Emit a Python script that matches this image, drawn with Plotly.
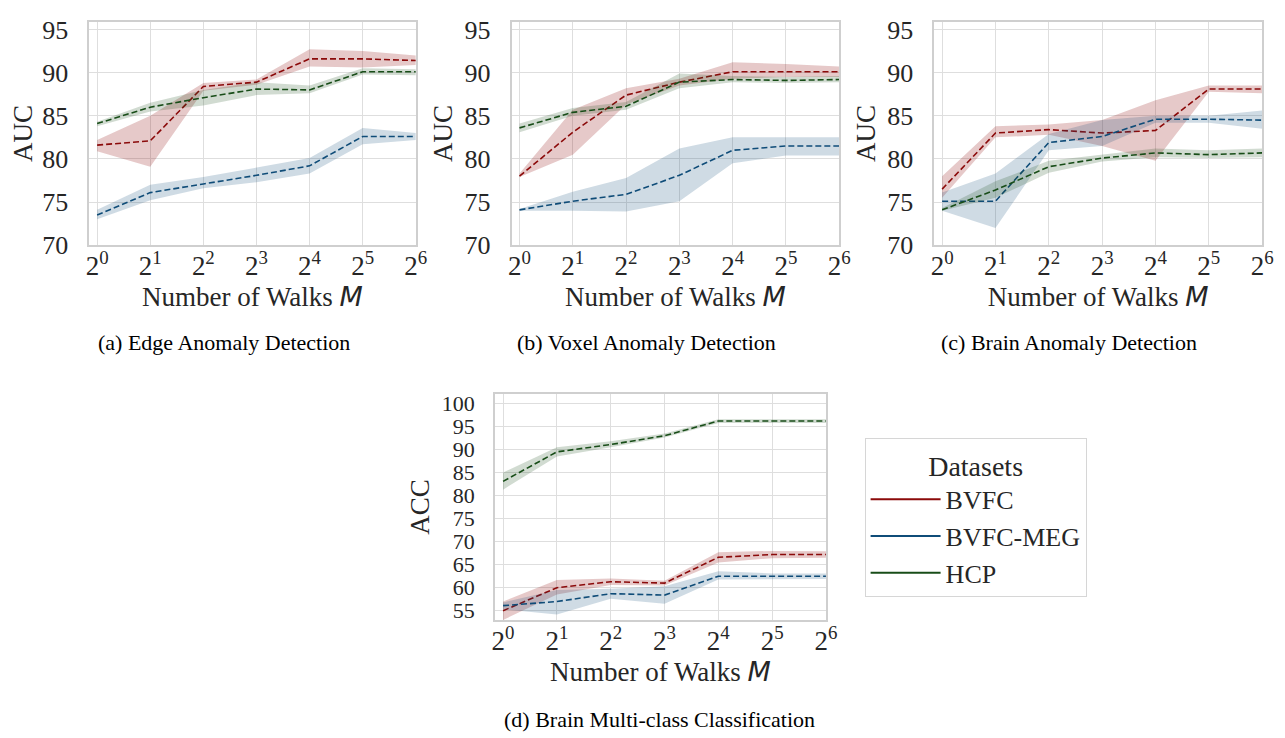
import plotly.graph_objects as go

walks = [0, 1, 2, 3, 4, 5, 6]
tick_text = [f"2<sup>{k}</sup>" for k in walks]
datasets = ["BVFC", "BVFC-MEG", "HCP"]
colors = {"BVFC": "#8b0a0a", "BVFC-MEG": "#0f4c78", "HCP": "#184d18"}
bands = {"BVFC": "rgba(139,10,10,0.22)", "BVFC-MEG": "rgba(15,76,120,0.2)", "HCP": "rgba(24,77,24,0.2)"}

# (a) Edge anomaly detection, AUC
edge_bvfc = [81.6, 82.1, 88.4, 88.9, 91.6, 91.6, 91.4]
edge_bvfc_lo = [80.9, 79.1, 87.9, 88.6, 90.7, 90.6, 90.9]
edge_bvfc_hi = [82.2, 85.0, 88.8, 89.2, 92.7, 92.5, 92.0]
edge_meg = [73.5, 76.1, 77.1, 78.1, 79.2, 82.6, 82.6]
edge_meg_lo = [73.0, 75.2, 76.6, 77.3, 78.3, 81.7, 82.2]
edge_meg_hi = [74.1, 77.0, 77.9, 79.0, 80.1, 83.6, 83.0]
edge_hcp = [84.1, 86.0, 87.1, 88.1, 88.0, 90.1, 90.1]
edge_hcp_lo = [83.8, 85.5, 86.2, 87.4, 87.6, 89.8, 89.7]
edge_hcp_hi = [84.3, 86.5, 88.0, 88.9, 88.5, 90.5, 90.4]

# (b) Voxel anomaly detection, AUC
voxel_bvfc = [78.0, 83.1, 87.4, 88.9, 90.1, 90.1, 90.1]
voxel_bvfc_lo = [77.9, 80.5, 86.3, 88.5, 89.3, 89.5, 89.5]
voxel_bvfc_hi = [78.3, 85.7, 88.2, 89.3, 91.2, 91.0, 90.7]
voxel_meg = [74.1, 75.1, 75.9, 78.1, 81.0, 81.5, 81.5]
voxel_meg_lo = [74.0, 74.0, 73.9, 75.1, 79.5, 80.4, 80.4]
voxel_meg_hi = [74.2, 76.2, 77.8, 81.2, 82.5, 82.5, 82.5]
voxel_hcp = [83.6, 85.4, 86.1, 88.9, 89.2, 89.1, 89.2]
voxel_hcp_lo = [83.1, 85.0, 85.7, 88.2, 88.9, 88.8, 88.9]
voxel_hcp_hi = [84.1, 85.9, 86.6, 89.9, 89.6, 89.5, 89.6]

# (c) Brain anomaly detection, AUC
brain_bvfc = [76.5, 83.0, 83.4, 83.0, 83.3, 88.1, 88.1]
brain_bvfc_lo = [75.5, 82.5, 82.8, 81.5, 79.8, 87.8, 87.6]
brain_bvfc_hi = [78.0, 83.8, 84.0, 84.5, 86.8, 88.5, 88.5]
brain_meg = [75.1, 75.1, 81.9, 82.6, 84.6, 84.6, 84.5]
brain_meg_lo = [74.0, 72.0, 81.0, 81.5, 84.2, 84.2, 83.5]
brain_meg_hi = [76.1, 78.3, 82.9, 84.5, 85.0, 85.0, 85.6]
brain_hcp = [74.1, 76.4, 79.1, 80.1, 80.7, 80.5, 80.7]
brain_hcp_lo = [74.0, 75.5, 78.4, 79.7, 80.2, 80.1, 80.2]
brain_hcp_hi = [74.3, 77.4, 79.8, 80.5, 81.2, 81.0, 81.2]

# (d) Brain multi-class classification, ACC
cls_bvfc = [55.0, 60.0, 61.3, 61.0, 66.6, 67.2, 67.2]
cls_bvfc_lo = [53.0, 58.5, 60.6, 60.5, 65.5, 66.4, 66.5]
cls_bvfc_hi = [57.0, 61.7, 62.0, 61.5, 67.7, 68.0, 67.9]
cls_meg = [56.1, 57.0, 58.7, 58.4, 62.5, 62.5, 62.5]
cls_meg_lo = [55.3, 54.2, 57.6, 56.5, 61.8, 61.9, 61.9]
cls_meg_hi = [56.8, 59.5, 59.8, 60.3, 63.6, 63.1, 63.1]
cls_hcp = [83.1, 89.5, 91.1, 93.0, 96.2, 96.2, 96.2]
cls_hcp_lo = [81.3, 88.5, 90.5, 92.6, 95.8, 95.8, 95.8]
cls_hcp_hi = [85.0, 90.5, 91.8, 93.5, 96.6, 96.6, 96.6]

panels = [
    ("x", "y", [(edge_bvfc, edge_bvfc_lo, edge_bvfc_hi), (edge_meg, edge_meg_lo, edge_meg_hi), (edge_hcp, edge_hcp_lo, edge_hcp_hi)]),
    ("x2", "y2", [(voxel_bvfc, voxel_bvfc_lo, voxel_bvfc_hi), (voxel_meg, voxel_meg_lo, voxel_meg_hi), (voxel_hcp, voxel_hcp_lo, voxel_hcp_hi)]),
    ("x3", "y3", [(brain_bvfc, brain_bvfc_lo, brain_bvfc_hi), (brain_meg, brain_meg_lo, brain_meg_hi), (brain_hcp, brain_hcp_lo, brain_hcp_hi)]),
    ("x4", "y4", [(cls_bvfc, cls_bvfc_lo, cls_bvfc_hi), (cls_meg, cls_meg_lo, cls_meg_hi), (cls_hcp, cls_hcp_lo, cls_hcp_hi)]),
]

fig = go.Figure()
for xa, ya, series in panels:
    for name, (mean, lo, hi) in zip(datasets, series):
        fig.add_trace(go.Scatter(x=walks, y=lo, xaxis=xa, yaxis=ya, mode="lines",
                                 line=dict(width=0), showlegend=False, hoverinfo="skip"))
        fig.add_trace(go.Scatter(x=walks, y=hi, xaxis=xa, yaxis=ya, mode="lines", fill="tonexty",
                                 fillcolor=bands[name], line=dict(width=0), showlegend=False, hoverinfo="skip"))
        fig.add_trace(go.Scatter(x=walks, y=mean, xaxis=xa, yaxis=ya, mode="lines", name=name,
                                 line=dict(color=colors[name], width=1.6, dash="6px,3px"), showlegend=False))

# legend entries drawn solid, like the reference
for name in datasets:
    fig.add_trace(go.Scatter(x=[None], y=[None], mode="lines", name=name,
                             line=dict(color=colors[name], width=2)))

font = "Liberation Serif"
xtitle = "Number of Walks <i><span style='font-family:DejaVu Sans'>M</span></i>"
grid = "#dedede"
frame = "#cfcfcf"

def xaxis(domain, anchor):
    return dict(domain=domain, anchor=anchor, range=[-0.15, 6], tickvals=walks, ticktext=tick_text,
                showgrid=True, gridcolor=grid, gridwidth=1, showline=True, mirror=True,
                linecolor=frame, linewidth=1.5, zeroline=False, ticks="", ticklabelstandoff=-4,
                tickfont=dict(family=font, size=27, color="#262626"),
                title=dict(text=xtitle, font=dict(family=font, size=27, color="#262626"), standoff=0))

def yaxis(domain, anchor, rng, tickvals, title, size):
    return dict(domain=domain, anchor=anchor, range=rng, tickvals=tickvals,
                showgrid=True, gridcolor=grid, gridwidth=1, showline=True, mirror=True,
                linecolor=frame, linewidth=1.5, zeroline=False, ticks="", ticklabelstandoff=14,
                tickfont=dict(family=font, size=size, color="#262626"),
                title=dict(text=title, font=dict(family=font, size=27, color="#262626"), standoff=4))

top_y = [0.6775, 0.9892]
auc_ticks = [70, 75, 80, 85, 90, 95]
acc_ticks = [55, 60, 65, 70, 75, 80, 85, 90, 95, 100]

fig.update_layout(
    width=1285, height=738,
    margin=dict(l=0, r=0, t=0, b=0),
    paper_bgcolor="white", plot_bgcolor="white",
    xaxis=xaxis([0.0615, 0.3185], "y"),
    yaxis=yaxis(top_y, "x", [70, 95.9], auc_ticks, "AUC", 26),
    xaxis2=xaxis([0.3938, 0.6516], "y2"),
    yaxis2=yaxis(top_y, "x2", [70, 95.9], auc_ticks, "AUC", 26),
    xaxis3=xaxis([0.7263, 0.9844], "y3"),
    yaxis3=yaxis(top_y, "x3", [70, 95.9], auc_ticks, "AUC", 26),
    xaxis4=xaxis([0.3808, 0.6412], "y4"),
    yaxis4=yaxis([0.1549, 0.4702], "x4", [53, 102.1], acc_ticks, "ACC", 22),
    legend=dict(x=0.6716, y=0.408, xanchor="left", yanchor="top", traceorder="normal",
                title=dict(text="Datasets", side="top center", font=dict(family=font, size=28, color="#262626")),
                font=dict(family=font, size=26, color="#262626"),
                bordercolor="#d6d6d6", borderwidth=1, bgcolor="white", itemwidth=70),
)

captions = [
    ("(a) Edge Anomaly Detection", 215, 338),
    ("(b) Voxel Anomaly Detection", 643, 338),
    ("(c) Brain Anomaly Detection", 1070, 338),
    ("(d) Brain Multi-class Classification", 656, 726),
]
for text, px, py in captions:
    fig.add_annotation(text=text, x=px / 1285, y=1 - py / 738, xref="paper", yref="paper",
                       showarrow=False, xanchor="center", yanchor="middle",
                       font=dict(family=font, size=22, color="black"))

fig.write_html("out.html")
